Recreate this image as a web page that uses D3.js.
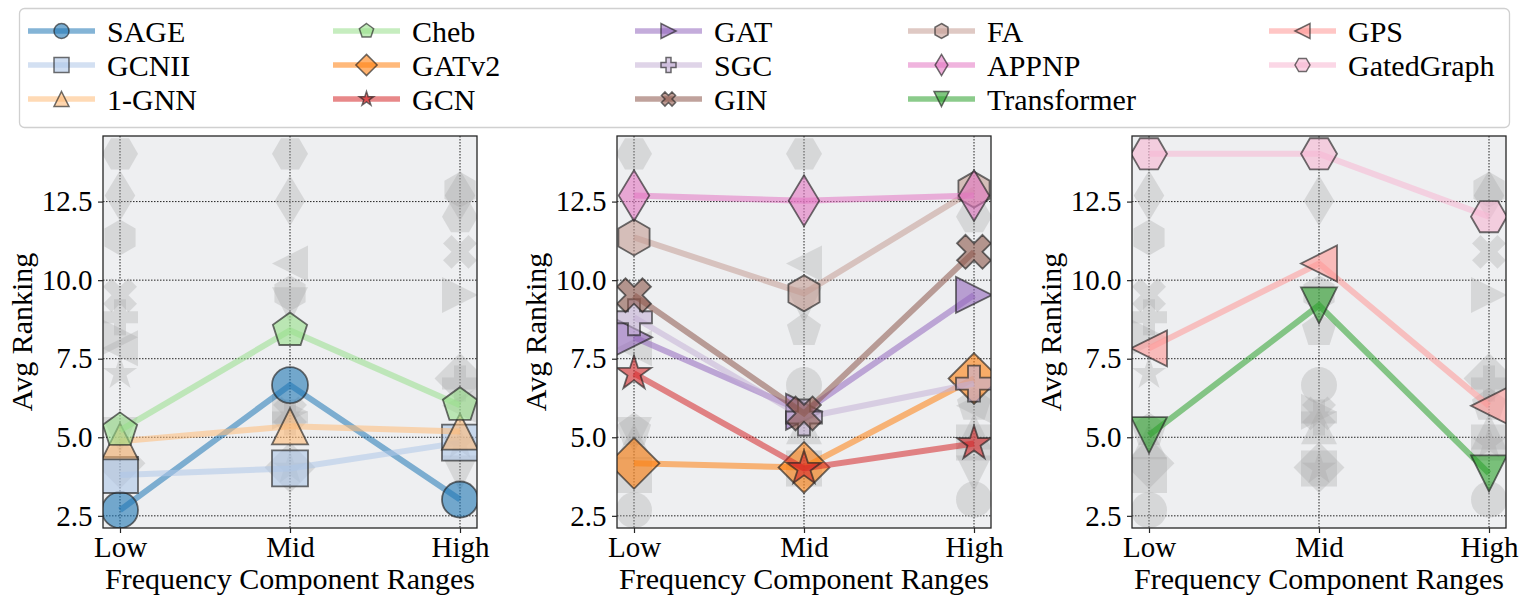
<!DOCTYPE html>
<html>
<head>
<meta charset="utf-8">
<script src="https://cdn.jsdelivr.net/npm/d3@7"></script>
<style>
  body { margin: 0; background: #fff; }
  text { font-family: "Liberation Serif", "Times New Roman", serif; fill: #000; }
</style>
</head>
<body>
<div id="chart"></div>
<script>
// model order = plotting / legend order
var models = ["SAGE", "GCNII", "1-GNN", "Cheb", "GATv2", "GCN", "GAT", "SGC",
              "GIN", "FA", "APPNP", "Transformer", "GPS", "GatedGraph"];
var colors = ["#1f77b4", "#aec7e8", "#ffbb78", "#98df8a", "#ff7f0e", "#d62728", "#9467bd", "#c5b0d5",
              "#8c564b", "#c49c94", "#e377c2", "#2ca02c", "#ff9896", "#f7b6d2"];
var shapes = ["o", "s", "^", "p", "D", "*", ">", "P", "X", "h", "d", "v", "<", "H"];

var ranges = ["Low", "Mid", "High"];
var lowRank  = [2.68, 3.80, 4.87, 5.22, 4.17, 7.03, 8.18, 8.82, 9.52, 11.36, 12.69, 5.07, 7.83, 14.02];
var midRank  = [6.66, 4.01, 5.35, 8.40, 4.04, 4.01, 5.81, 5.63, 5.76, 9.58, 12.53, 9.20, 10.53, 14.02];
var highRank = [3.02, 4.83, 5.18, 6.02, 6.87, 4.80, 9.53, 6.71, 10.90, 12.88, 12.69, 3.85, 6.00, 12.02];

var panelGroups = [
  ["SAGE", "GCNII", "1-GNN", "Cheb"],
  ["GATv2", "GCN", "GAT", "SGC", "GIN", "FA", "APPNP"],
  ["Transformer", "GPS", "GatedGraph"]
];
var yTicks = [2.5, 5.0, 7.5, 10.0, 12.5];

var svgWidth = 1528;
var svgHeight = 606;
var panelLeft = [103, 617, 1132];
var panelTop = 136;
var panelW = 374;
var panelH = 392;
var ms = 36;
var legendMs = 15;

var svg = d3.select("#chart")
  .append("svg")
  .attr("width", svgWidth)
  .attr("height", svgHeight);

function polyPath(pts) {
  return "M" + pts.map(p => p[0].toFixed(2) + "," + p[1].toFixed(2)).join("L") + "Z";
}
function regular(n, r, startDeg) {
  return d3.range(n).map(function(k) {
    var a = (startDeg + 360 * k / n) * Math.PI / 180;
    return [r * Math.cos(a), r * Math.sin(a)];
  });
}
var plusVerts = [[-1,-3],[1,-3],[1,-1],[3,-1],[3,1],[1,1],[1,3],[-1,3],[-1,1],[-3,1],[-3,-1],[-1,-1]];

// matplotlib-like marker outlines, size s in px
function markerPath(shape, s) {
  var h = s / 2, a;
  switch (shape) {
    case "o": return `M${h},0A${h},${h} 0 1,1 ${-h},0A${h},${h} 0 1,1 ${h},0Z`;
    case "s": return polyPath([[-h,-h],[h,-h],[h,h],[-h,h]]);
    case "^": return polyPath([[0,-h],[h,h],[-h,h]]);
    case "v": return polyPath([[0,h],[h,-h],[-h,-h]]);
    case ">": return polyPath([[h,0],[-h,h],[-h,-h]]);
    case "<": return polyPath([[-h,0],[h,-h],[h,h]]);
    case "p": return polyPath(regular(5, h, -90));
    case "h": return polyPath(regular(6, h, -90));
    case "H": return polyPath(regular(6, h, 0));
    case "D": a = s * Math.SQRT1_2; return polyPath([[0,-a],[a,0],[0,a],[-a,0]]);
    case "d": a = s * Math.SQRT1_2; return polyPath([[0,-a],[0.6*a,0],[0,a],[-0.6*a,0]]);
    case "*":
      return polyPath(d3.range(10).map(function(k) {
        var r = k % 2 ? h * 0.381966 : h;
        var ang = (-90 + 36 * k) * Math.PI / 180;
        return [r * Math.cos(ang), r * Math.sin(ang)];
      }));
    case "P": return polyPath(plusVerts.map(p => [p[0] * s / 6, p[1] * s / 6]));
    case "X":
      var c = Math.SQRT1_2;
      return polyPath(plusVerts.map(p => [(p[0] - p[1]) * c * s / 6, (p[0] + p[1]) * c * s / 6]));
  }
}

var allVals = lowRank.concat(midRank, highRank);
var yMin = d3.min(allVals), yMax = d3.max(allVals);
var yPad = (yMax - yMin) * 0.05;

var xScale = d3.scalePoint()
  .domain(ranges)
  .range([0, panelW])
  .padding(0.1);

var yScale = d3.scaleLinear()
  .domain([yMin - yPad, yMax + yPad])
  .range([panelH, 0]);

function valuesOf(i) {
  return [lowRank[i], midRank[i], highRank[i]];
}

panelGroups.forEach(function(group, p) {
  var g = svg.append("g")
    .attr("transform", `translate(${panelLeft[p]}, ${panelTop})`);

  g.append("clipPath")
    .attr("id", "clip" + p)
    .append("rect")
    .attr("width", panelW)
    .attr("height", panelH);

  g.append("rect")
    .attr("width", panelW)
    .attr("height", panelH)
    .attr("fill", "#eeeff1");

  // dotted grid
  g.append("g").selectAll("line")
    .data(yTicks)
    .enter()
    .append("line")
    .attr("x1", 0).attr("x2", panelW)
    .attr("y1", d => yScale(d)).attr("y2", d => yScale(d))
    .attr("stroke", "#222").attr("stroke-width", 1)
    .attr("stroke-dasharray", "1.5,1.5");
  g.append("g").selectAll("line")
    .data(ranges)
    .enter()
    .append("line")
    .attr("x1", d => xScale(d)).attr("x2", d => xScale(d))
    .attr("y1", 0).attr("y2", panelH)
    .attr("stroke", "#222").attr("stroke-width", 1)
    .attr("stroke-dasharray", "1.5,1.5");

  var plot = g.append("g").attr("clip-path", `url(#clip${p})`);

  // other models as grey ghosts
  models.forEach(function(m, i) {
    if (group.indexOf(m) >= 0) return;
    plot.append("g").selectAll("path")
      .data(valuesOf(i))
      .enter()
      .append("path")
      .attr("d", markerPath(shapes[i], ms))
      .attr("transform", (d, k) => `translate(${xScale(ranges[k])},${yScale(d)})`)
      .attr("fill", "#a8a8a8")
      .attr("fill-opacity", 0.33);
  });

  // highlighted models
  var line = d3.line()
    .x((d, k) => xScale(ranges[k]))
    .y(d => yScale(d));

  models.forEach(function(m, i) {
    if (group.indexOf(m) < 0) return;
    var vals = valuesOf(i);
    plot.append("path")
      .attr("d", line(vals))
      .attr("fill", "none")
      .attr("stroke", colors[i])
      .attr("stroke-opacity", 0.55)
      .attr("stroke-width", 6);
    plot.append("g").selectAll("path")
      .data(vals)
      .enter()
      .append("path")
      .attr("d", markerPath(shapes[i], ms))
      .attr("transform", (d, k) => `translate(${xScale(ranges[k])},${yScale(d)})`)
      .attr("fill", colors[i])
      .attr("fill-opacity", 0.6)
      .attr("stroke", "#222")
      .attr("stroke-opacity", 0.65)
      .attr("stroke-width", 1.8);
  });

  // axes
  var xAxis = d3.axisBottom(xScale).tickSize(5).tickSizeOuter(0).tickPadding(3.5);
  var yAxis = d3.axisLeft(yScale).tickValues(yTicks).tickFormat(d3.format(".1f"))
    .tickSize(5).tickSizeOuter(0).tickPadding(5.5);

  var xg = g.append("g").attr("transform", `translate(0, ${panelH})`).call(xAxis);
  var yg = g.append("g").call(yAxis);
  [xg, yg].forEach(function(ax) {
    ax.select(".domain").remove();
    ax.selectAll(".tick line").attr("stroke", "#262626").attr("stroke-width", 1.2);
    ax.selectAll(".tick text")
      .attr("font-family", "Liberation Serif")
      .attr("font-size", 29)
      .attr("fill", "#000");
  });

  g.append("rect")
    .attr("width", panelW)
    .attr("height", panelH)
    .attr("fill", "none")
    .attr("stroke", "#262626")
    .attr("stroke-width", 1.3);

  g.append("text")
    .attr("x", panelW / 2)
    .attr("y", panelH + 61)
    .attr("text-anchor", "middle")
    .attr("font-size", 30)
    .text("Frequency Component Ranges");

  g.append("text")
    .attr("transform", "rotate(-90)")
    .attr("x", -panelH / 2)
    .attr("y", -71)
    .attr("text-anchor", "middle")
    .attr("font-size", 30)
    .text("Avg Ranking");
});

// legend
var legendColX = [28, 333, 635, 908, 1269];
var legendRowY = [31, 65, 99];

svg.append("rect")
  .attr("x", 19.5).attr("y", 8.5)
  .attr("width", 1490).attr("height", 119)
  .attr("rx", 5)
  .attr("fill", "#fff")
  .attr("stroke", "#d0d0d0")
  .attr("stroke-width", 1.3);

var legend = svg.append("g").selectAll("g")
  .data(models)
  .enter()
  .append("g")
  .attr("transform", (d, i) => `translate(${legendColX[Math.floor(i / 3)]}, ${legendRowY[i % 3]})`);

legend.append("line")
  .attr("x1", 0).attr("x2", 67)
  .attr("stroke", (d, i) => colors[i])
  .attr("stroke-opacity", 0.55)
  .attr("stroke-width", 5.5);

legend.append("path")
  .attr("d", (d, i) => markerPath(shapes[i], legendMs))
  .attr("transform", "translate(33.5,0)")
  .attr("fill", (d, i) => colors[i])
  .attr("fill-opacity", 0.6)
  .attr("stroke", "#222")
  .attr("stroke-opacity", 0.65)
  .attr("stroke-width", 1.5);

legend.append("text")
  .attr("x", 79)
  .attr("dy", "0.36em")
  .attr("font-size", 30)
  .text(d => d);
</script>
</body>
</html>
